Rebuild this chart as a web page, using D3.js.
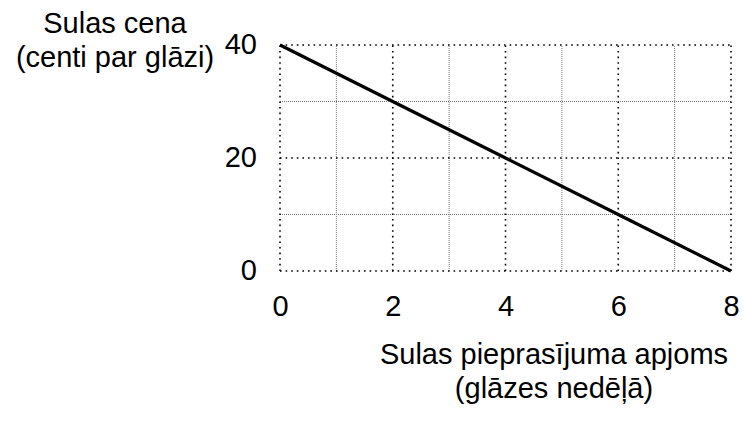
<!DOCTYPE html>
<html>
<head>
<meta charset="utf-8">
<script src="https://cdn.jsdelivr.net/npm/d3@7"></script>
<style>
  html, body { margin: 0; padding: 0; background: #fff; }
  svg { display: block; }
  text { font-family: "Liberation Sans", Arial, sans-serif; fill: #000; }
</style>
</head>
<body>
<svg id="chart" width="743" height="421"></svg>
<script>
// Data
const quantity = [0, 2, 4, 6, 8];          // glasses per week
const price = [40, 30, 20, 10, 0];         // cents per glass
const xTicks = [0, 2, 4, 6, 8];
const yTicks = [0, 20, 40];
const xMinor = [1, 3, 5, 7];
const yMinor = [10, 30];
const yTitle = ["Sulas cena", "(centi par glāzi)"];
const xTitle = ["Sulas pieprasījuma apjoms", "(glāzes nedēļā)"];

const svg = d3.select("#chart");
const x = d3.scaleLinear().domain([0, 8]).range([280, 731]);
const y = d3.scaleLinear().domain([0, 40]).range([271, 45]);
const fs = 29;

// minor grid
const g = svg.append("g");
g.selectAll(".vminor").data(xMinor).join("line")
  .attr("x1", d => x(d)).attr("x2", d => x(d))
  .attr("y1", y(0)).attr("y2", y(40))
  .attr("stroke", "#777").attr("stroke-width", 1).attr("stroke-dasharray", "1,1");
g.selectAll(".hminor").data(yMinor).join("line")
  .attr("y1", d => y(d)).attr("y2", d => y(d))
  .attr("x1", x(0)).attr("x2", x(8))
  .attr("stroke", "#777").attr("stroke-width", 1).attr("stroke-dasharray", "1,1");

// major grid
g.selectAll(".vmajor").data(xTicks).join("line")
  .attr("x1", d => x(d)).attr("x2", d => x(d))
  .attr("y1", y(0)).attr("y2", y(40))
  .attr("stroke", "#000").attr("stroke-width", 1.6).attr("stroke-dasharray", "1.6,4");
g.selectAll(".hmajor").data(yTicks).join("line")
  .attr("y1", d => y(d)).attr("y2", d => y(d))
  .attr("x1", x(0)).attr("x2", x(8))
  .attr("stroke", "#000").attr("stroke-width", 1.6).attr("stroke-dasharray", "1.6,4");

// demand line
const pts = quantity.map((q, i) => [q, price[i]]);
svg.append("path")
  .datum(pts)
  .attr("fill", "none")
  .attr("stroke", "#000")
  .attr("stroke-width", 3.2)
  .attr("d", d3.line().x(d => x(d[0])).y(d => y(d[1])));

// x axis tick labels
const xAxis = d3.axisBottom(x).tickValues(xTicks).tickSize(0).tickPadding(0).tickFormat(d3.format("d"));
const xa = svg.append("g").attr("transform", `translate(0,${y(0)})`).call(xAxis);
xa.select(".domain").remove();
xa.selectAll("text").attr("font-size", fs).attr("font-family", null).attr("dy", null).attr("y", 45);

// y axis tick labels
const yAxis = d3.axisLeft(y).tickValues(yTicks).tickSize(0).tickPadding(0).tickFormat(d3.format("d"));
const ya = svg.append("g").attr("transform", `translate(${x(0)},0)`).call(yAxis);
ya.select(".domain").remove();
ya.selectAll("text").attr("font-size", fs).attr("font-family", null).attr("x", -23).attr("dy", "0.3em");

// titles
svg.append("g").selectAll("text").data(yTitle).join("text")
  .attr("x", 115).attr("y", (d, i) => 33 + i * 34)
  .attr("text-anchor", "middle").attr("font-size", fs).text(d => d);
svg.append("g").selectAll("text").data(xTitle).join("text")
  .attr("x", 554).attr("y", (d, i) => 364 + i * 34)
  .attr("text-anchor", "middle").attr("font-size", fs).text(d => d);
</script>
</body>
</html>
